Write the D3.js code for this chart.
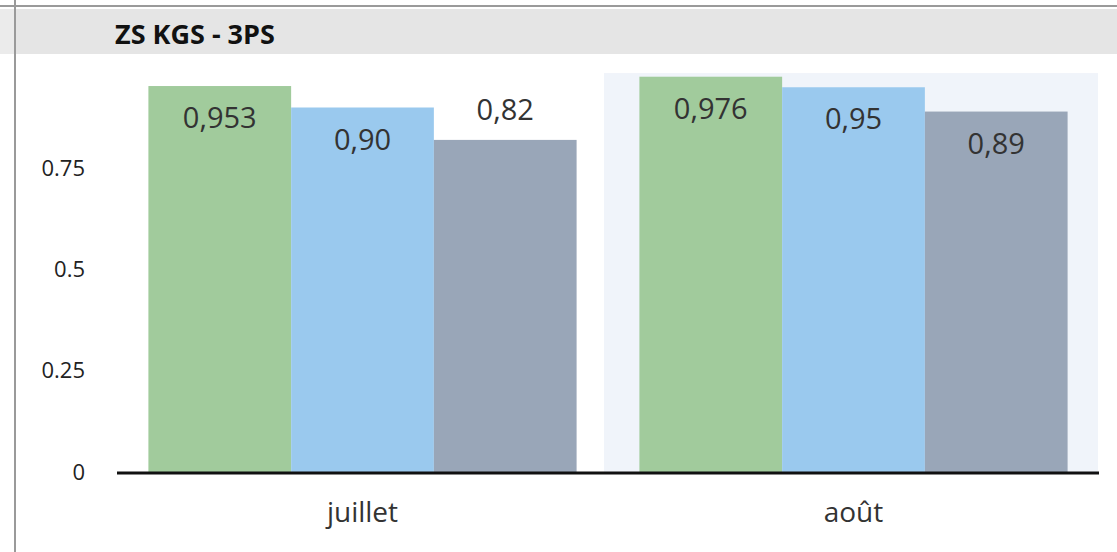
<!DOCTYPE html>
<html>
<head>
<meta charset="utf-8">
<script src="https://cdn.jsdelivr.net/npm/d3@7"></script>
<style>
  html, body { margin: 0; padding: 0; background: #fff; }
  svg { display: block; font-family: "Open Sans", "Segoe UI", "DejaVu Sans", sans-serif; }
</style>
</head>
<body>
<svg id="chart"></svg>
<script>
const months = ['juillet', 'août'];
const seriesNames = ['s1', 's2', 's3'];
const juilletValues = [0.953, 0.90, 0.82];
const aoutValues = [0.976, 0.95, 0.89];
const valueLabels = [['0,953', '0,90', '0,82'], ['0,976', '0,95', '0,89']];
const yTicks = [0, 0.25, 0.5, 0.75];
const colors = ['#a1cb9c', '#9ac9ee', '#99a6b8'];
const highlighted = 'août';

const W = 1117, H = 552;
const MARGIN = { top: 75, right: 18, bottom: 80, left: 117 };
const FONT = '"Open Sans", "Segoe UI", "DejaVu Sans", sans-serif';

const data = months.map((m, i) => ({
    month: m,
    values: (i === 0 ? juilletValues : aoutValues).map((v, j) => ({ key: seriesNames[j], value: v, label: valueLabels[i][j] }))
}));

const svg = d3.select('#chart').attr('width', W).attr('height', H);

// frame: top line, header band, left rule
svg.append('rect').attr('x', 0).attr('y', 9).attr('width', W).attr('height', 45).attr('fill', '#e5e5e5');
svg.append('rect').attr('x', 0).attr('y', 9).attr('width', 14).attr('height', 45).attr('fill', '#ebebeb');
svg.append('line').attr('x1', 0).attr('x2', W).attr('y1', 6).attr('y2', 6)
    .attr('stroke', '#9a9a9a').attr('stroke-width', 2);
svg.append('line').attr('x1', 15).attr('x2', 15).attr('y1', 0).attr('y2', H)
    .attr('stroke', '#9a9a9a').attr('stroke-width', 2);

svg.append('text')
    .attr('x', 115).attr('y', 44)
    .style('font-size', '27px').style('font-weight', 'bold').style('fill', '#111')
    .text('ZS KGS - 3PS');

const x0 = d3.scaleBand().domain(months).range([MARGIN.left, W - MARGIN.right]).paddingInner(0).paddingOuter(0);
const x1 = d3.scaleBand().domain(seriesNames).range([0, x0.bandwidth()]).paddingInner(0).paddingOuter(0.22);
const y = d3.scaleLinear().domain([0, 1]).range([472, 472 - 405]);

// highlighted month background
svg.append('rect')
    .attr('x', x0(highlighted) - 4)
    .attr('y', y(0.985))
    .attr('width', x0.bandwidth() + 3)
    .attr('height', y(0) - y(0.985))
    .attr('fill', '#f0f4fa');

// y axis labels
svg.append('g')
    .attr('transform', 'translate(85,0)')
    .call(d3.axisLeft(y).tickValues(yTicks).tickSize(0).tickPadding(0).tickFormat(d => d === 0 ? '0' : String(d)))
    .call(g => g.select('.domain').remove())
    .selectAll('text')
    .style('font-size', '22px').style('fill', '#222')
    .style('font-family', FONT);

const groups = svg.selectAll('g.month')
    .data(data)
    .join('g')
    .attr('class', 'month')
    .attr('transform', d => `translate(${x0(d.month)},0)`);

groups.selectAll('rect.bar')
    .data(d => d.values)
    .join('rect')
    .attr('class', 'bar')
    .attr('x', d => x1(d.key))
    .attr('y', d => y(d.value))
    .attr('width', x1.bandwidth())
    .attr('height', d => y(0) - y(d.value))
    .attr('fill', (d, i) => colors[i]);

groups.selectAll('text.val')
    .data(d => d.values)
    .join('text')
    .attr('class', 'val')
    .attr('x', d => x1(d.key) + x1.bandwidth() / 2)
    .attr('y', d => d.value < 0.85 ? y(d.value) - 20 : y(d.value) + 42)
    .attr('text-anchor', 'middle')
    .style('font-size', '29px').style('fill', '#333')
    .text(d => d.label);

// baseline
svg.append('line')
    .attr('x1', MARGIN.left).attr('x2', W - MARGIN.right)
    .attr('y1', y(0) + 1).attr('y2', y(0) + 1)
    .attr('stroke', '#111').attr('stroke-width', 3);

// x axis labels
svg.append('g')
    .attr('transform', `translate(0,${y(0) + 1})`)
    .call(d3.axisBottom(x0).tickSize(0).tickPadding(0))
    .call(g => g.select('.domain').remove())
    .selectAll('text')
    .attr('dy', null)
    .attr('y', 49)
    .style('font-size', '28px').style('fill', '#333')
    .style('font-family', FONT);
</script>
</body>
</html>
